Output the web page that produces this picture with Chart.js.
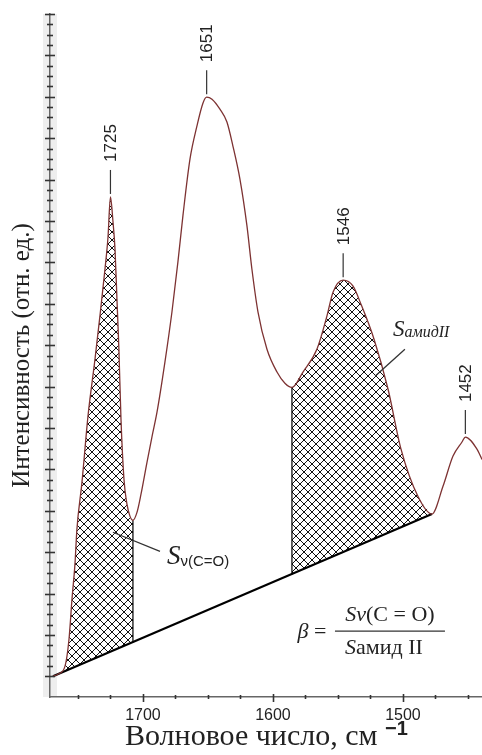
<!DOCTYPE html>
<html lang="ru">
<head>
<meta charset="UTF-8">
<title>ИК-спектр</title>
<script src="https://cdn.jsdelivr.net/npm/chart.js"></script>
<style>
    html, body { margin: 0; padding: 0; background: #ffffff; }
    canvas { display: block; }
</style>
</head>
<body>
<canvas id="spektr" width="482" height="755"></canvas>
<script>
// спектр: волновое число (см-1) и интенсивность (отн. ед.)
const volnovoeChislo = [1769.2, 1765.4, 1760.0, 1756.9, 1754.6, 1752.3, 1750.8, 1746.9, 1742.3, 1736.9,
    1733.1, 1729.2, 1726.9, 1725, 1723.1, 1721.5, 1720.0, 1718.5, 1716.9, 1714.6,
    1712.3, 1710.0, 1707.7, 1704.6, 1701.5, 1696.9, 1693.1, 1689.2, 1683.1, 1677.7,
    1673.1, 1669.2, 1663.8, 1658.5, 1653.8, 1651, 1646.9, 1640.8, 1635.4, 1630.8,
    1625.4, 1620.0, 1616.2, 1611.5, 1604.6, 1596.9, 1590.8, 1585.4, 1576.9, 1566.2,
    1558.5, 1553.8, 1546, 1538.5, 1532.3, 1522.3, 1511.5, 1501.5, 1488.5, 1477.7,
    1469.2, 1461.5, 1454.6, 1452, 1443.1, 1439.2];
const intensivnost = [0.00, 0.05, 0.24, 0.89, 1.86, 2.71, 3.55, 4.69, 6.28, 7.66,
    8.70, 9.84, 10.60, 11.58, 11.00, 10.32, 9.11, 7.90, 6.21, 4.76,
    4.16, 3.87, 3.77, 3.96, 4.40, 5.17, 5.78, 6.38, 7.59, 8.80,
    10.01, 11.14, 12.50, 13.29, 13.85, 13.99, 13.94, 13.70, 13.39, 12.81,
    12.01, 10.88, 9.84, 8.80, 7.90, 7.35, 7.08, 6.98, 7.35, 7.90,
    8.70, 9.28, 9.57, 9.43, 8.99, 8.15, 6.94, 5.49, 4.35, 3.92,
    4.59, 5.32, 5.66, 5.78, 5.49, 5.24];

// базовая линия (начало и конец)
const bazaX = [1769.2, 1477.7];
const bazaY = [0.00, 3.92];

// границы заштрихованных площадей
const oblastCO = [1769.2, 1707.7];
const oblastAmid = [1585.4, 1477.7];
// нижние концы вертикалей (на базовой линии)
const nizVertCO = 0.82;
const nizVertAmid = 2.46;

// подписи пиков
const piki = [1725, 1651, 1546, 1452];
// подписи оси X
const xMetki = [1700, 1600, 1500];

const holst = document.getElementById('spektr');
const g = holst.getContext('2d');

function shtrikhovka() {
    const c = document.createElement('canvas');
    c.width = 8; c.height = 8;
    const t = c.getContext('2d');
    t.fillStyle = '#ffffff';
    t.fillRect(0, 0, 8, 8);
    t.strokeStyle = '#111111';
    t.lineWidth = 1;
    t.beginPath();
    t.moveTo(-1, -1); t.lineTo(9, 9);
    t.moveTo(9, -1); t.lineTo(-1, 9);
    t.moveTo(-1, 7); t.lineTo(1, 9);
    t.moveTo(7, -1); t.lineTo(9, 1);
    t.moveTo(-1, 1); t.lineTo(1, -1);
    t.moveTo(7, 9); t.lineTo(9, 7);
    t.stroke();
    return g.createPattern(c, 'repeat');
}
const uzor = shtrikhovka();

const tochki = volnovoeChislo.map((v, i) => ({ x: v, y: intensivnost[i] }));
const vOblasti = (r) => tochki.filter(p => p.x <= r[0] && p.x >= r[1]);
const naKrivoy = (v) => intensivnost[volnovoeChislo.indexOf(v)];

function tekst(ctx, chasti, x, y, align) {
    // рисует строку из нескольких кусков разными шрифтами
    let w = 0;
    chasti.forEach(c => { ctx.font = c.f; w += ctx.measureText(c.t).width; });
    let cx = align === 'center' ? x - w / 2 : (align === 'right' ? x - w : x);
    ctx.textAlign = 'left';
    ctx.textBaseline = 'alphabetic';
    chasti.forEach(c => {
        ctx.font = c.f;
        ctx.fillText(c.t, cx, y + (c.dy || 0));
        cx += ctx.measureText(c.t).width;
    });
    return w;
}

function liniya(ctx, x1, y1, x2, y2) {
    ctx.beginPath(); ctx.moveTo(x1, y1); ctx.lineTo(x2, y2); ctx.stroke();
}

const podpisi = {
    id: 'podpisi',
    beforeDraw(chart) {
        const { ctx, chartArea: a } = chart;
        ctx.save();
        ctx.fillStyle = '#eeeeee';
        ctx.fillRect(a.left - 7, a.top, 14, a.bottom - a.top);
        ctx.restore();
    },
    afterDraw(chart) {
        const { ctx, chartArea: a, scales: { x, y } } = chart;
        ctx.save();
        ctx.strokeStyle = '#333333';
        ctx.fillStyle = '#222222';

        // засечки оси Y
        ctx.lineWidth = 1.6;
        for (let v = 0; v <= 16; v += 0.25) {
            const py = Math.round(y.getPixelForValue(v)) + 0.5;
            const d = Number.isInteger(v) ? 5 : 3;
            liniya(ctx, a.left - d, py, a.left + d, py);
        }
        // засечки оси X
        for (let v = 1450; v <= 1750; v += 25) {
            const px = Math.round(x.getPixelForValue(v)) + 0.5;
            if (v % 100 === 0) liniya(ctx, px, a.bottom - 3, px, a.bottom + 5);
            else liniya(ctx, px, a.bottom - 2, px, a.bottom + 2);
        }

        // подписи пиков
        ctx.lineWidth = 1.2;
        ctx.font = '17px "Liberation Sans", Arial, sans-serif';
        piki.forEach(p => {
            const px = x.getPixelForValue(p);
            const py = y.getPixelForValue(naKrivoy(p));
            liniya(ctx, px, py - 3, px, py - 27);
            ctx.save();
            ctx.translate(px, py - 35);
            ctx.rotate(-Math.PI / 2);
            ctx.textAlign = 'left';
            ctx.textBaseline = 'middle';
            ctx.fillText(String(p), 0, 1);
            ctx.restore();
        });

        // S v(C=O)
        ctx.lineWidth = 1.3;
        liniya(ctx, x.getPixelForValue(1723.1), y.getPixelForValue(3.48),
            x.getPixelForValue(1686.9), y.getPixelForValue(3.02));
        tekst(ctx, [
            { t: 'S', f: 'italic 27px "Liberation Serif", serif' },
            { t: 'ν(C=O)', f: '15px "Liberation Sans", sans-serif', dy: 2 }
        ], x.getPixelForValue(1681.5), y.getPixelForValue(2.71), 'left');

        // S амид II
        liniya(ctx, x.getPixelForValue(1498.5), y.getPixelForValue(7.90),
            x.getPixelForValue(1521.5), y.getPixelForValue(7.25));
        tekst(ctx, [
            { t: 'S', f: 'italic 23px "Liberation Serif", serif' },
            { t: 'амидII', f: 'italic 16px "Liberation Serif", serif', dy: 1 }
        ], x.getPixelForValue(1507.7), y.getPixelForValue(8.22), 'left');

        // формула
        const fx = x.getPixelForValue(1510);
        const fy = y.getPixelForValue(1.09);
        const shr = '22px "Liberation Serif", serif';
        const shrI = 'italic 22px "Liberation Serif", serif';
        ctx.lineWidth = 1.2;
        liniya(ctx, fx - 55, fy, fx + 55, fy);
        tekst(ctx, [{ t: 'S', f: shrI }, { t: 'ν', f: shrI }, { t: '(C = O)', f: shr }], fx, fy - 10, 'center');
        tekst(ctx, [{ t: 'S', f: shrI }, { t: 'амид II', f: shr }], fx - 6, fy + 23, 'center');
        tekst(ctx, [{ t: 'β', f: shrI }, { t: ' = ', f: shr }], fx - 58, fy + 7, 'right');

        // подпись оси X
        const osX = [
            { t: 'Волновое число, см ', f: '30px "Liberation Serif", serif' },
            { t: '−1', f: 'bold 20px "Liberation Sans", sans-serif', dy: -10 }
        ];
        tekst(ctx, osX, a.left + 75, a.bottom + 48, 'left');
        ctx.restore();
    }
};

new Chart(g, {
    type: 'line',
    data: {
        datasets: [
            {
                label: 'спектр',
                data: tochki,
                borderColor: '#7d3232',
                borderWidth: 1.3,
                pointRadius: 0,
                fill: false,
                cubicInterpolationMode: 'monotone',
                order: 0
            },
            {
                label: 'S v(C=O)',
                data: vOblasti(oblastCO),
                borderWidth: 0,
                pointRadius: 0,
                backgroundColor: uzor,
                fill: { target: 3 },
                cubicInterpolationMode: 'monotone',
                order: 5
            },
            {
                label: 'S амид II',
                data: vOblasti(oblastAmid),
                borderWidth: 0,
                pointRadius: 0,
                backgroundColor: uzor,
                fill: { target: 3 },
                cubicInterpolationMode: 'monotone',
                order: 5
            },
            {
                label: 'базовая линия',
                data: bazaX.map((v, i) => ({ x: v, y: bazaY[i] })),
                borderColor: '#000000',
                borderWidth: 2.2,
                pointRadius: 0,
                fill: false,
                order: 1
            },
            {
                label: 'граница 1',
                data: [{ x: oblastCO[1], y: naKrivoy(oblastCO[1]) }, { x: oblastCO[1], y: nizVertCO }],
                borderColor: '#000000',
                borderWidth: 1.2,
                pointRadius: 0,
                fill: false,
                order: 1
            },
            {
                label: 'граница 2',
                data: [{ x: oblastAmid[0], y: naKrivoy(oblastAmid[0]) }, { x: oblastAmid[0], y: nizVertAmid }],
                borderColor: '#000000',
                borderWidth: 1.2,
                pointRadius: 0,
                fill: false,
                order: 1
            }
        ]
    },
    options: {
        responsive: false,
        animation: false,
        devicePixelRatio: 1,
        layout: { padding: { top: 14, right: 0, left: 0, bottom: 0 } },
        plugins: {
            legend: { display: false },
            tooltip: { enabled: false }
        },
        scales: {
            x: {
                type: 'linear',
                reverse: true,
                min: 1439.2,
                max: 1771.5,
                afterFit: (s) => { s.height = 58; },
                afterBuildTicks: (s) => { s.ticks = xMetki.map(v => ({ value: v })); },
                grid: { display: false, drawTicks: false },
                border: { display: true, color: '#666666', width: 1.5 },
                ticks: {
                    autoSkip: false,
                    maxRotation: 0,
                    padding: 9,
                    color: '#222222',
                    font: { family: '"Liberation Sans", Arial, sans-serif', size: 16 },
                    callback: (v) => String(v)
                }
            },
            y: {
                type: 'linear',
                min: -0.5,
                max: 16,
                afterFit: (s) => { s.width = 50; },
                grid: { display: false, drawTicks: false },
                border: { display: true, color: '#666666', width: 1.5 },
                ticks: { display: false },
                title: {
                    display: true,
                    text: 'Интенсивность (отн. ед.)',
                    color: '#222222',
                    font: { family: '"Liberation Serif", serif', size: 25 },
                    padding: { top: 7, bottom: 0 }
                }
            }
        }
    },
    plugins: [podpisi]
});
</script>
</body>
</html>
